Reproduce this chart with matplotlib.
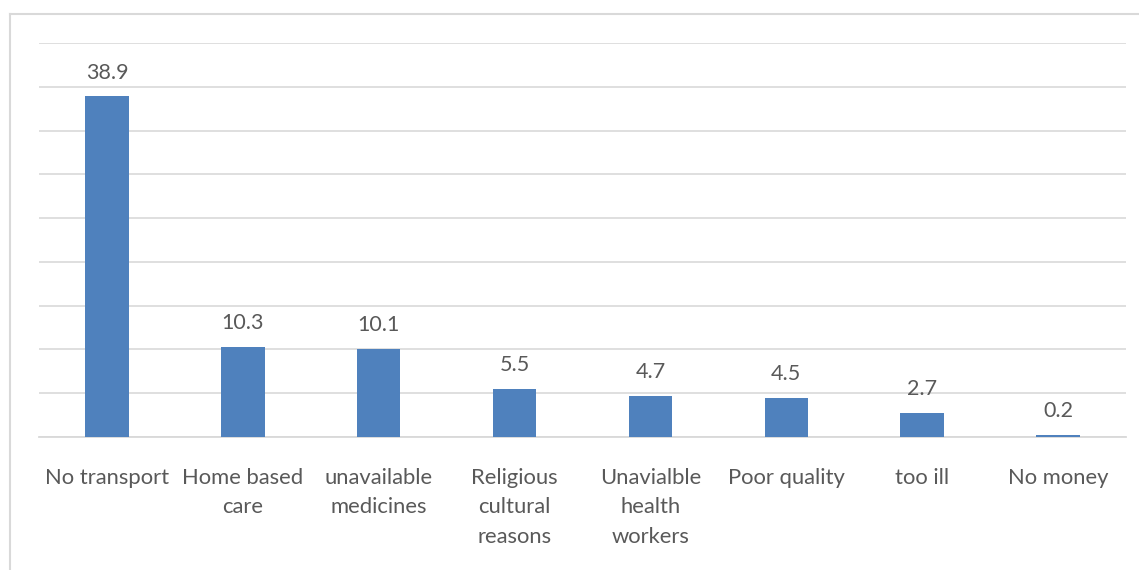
import numpy as np
import matplotlib.pyplot as plt
from matplotlib.lines import Line2D

categories = ["No transport", "Home based\ncare", "unavailable\nmedicines",
              "Religious\ncultural\nreasons", "Unavialble\nhealth\nworkers",
              "Poor quality", "too ill", "No money"]
values = [38.9, 10.3, 10.1, 5.5, 4.7, 4.5, 2.7, 0.2]
value_labels = ["38.9", "10.3", "10.1", "5.5", "4.7", "4.5", "2.7", "0.2"]

plt.rcParams['font.family'] = ['Lato', 'DejaVu Sans']
text_col = "#595959"
grid_col = "#D9D9D9"
bar_col = "#4F81BD"

fig = plt.figure(figsize=(11.39, 5.7), dpi=100)
ax = fig.add_axes([39/1139, 133/570, 1087/1139, 394/570])

x = np.arange(len(categories))
ax.bar(x, values, width=0.32, color=bar_col, zorder=3)

for xi, v, lab in zip(x, values, value_labels):
    ax.annotate(lab, (xi, v), xytext=(0, 10), textcoords="offset points",
                ha="center", va="bottom", fontsize=15.5, color=text_col)

ax.set_xlim(-0.5, len(categories) - 0.5)
ax.set_ylim(0, 45)
ax.set_yticks(np.arange(0, 46, 5))
ax.set_yticklabels([])
ax.tick_params(axis="y", length=0)
ax.grid(axis="y", color=grid_col, linewidth=1.2, zorder=0)

ax.set_xticks(x)
ax.set_xticklabels(categories, fontsize=15.8, color=text_col, linespacing=1.62)
ax.tick_params(axis="x", length=0, pad=22)

for s in ["top", "right", "left"]:
    ax.spines[s].set_visible(False)
ax.spines["bottom"].set_color(grid_col)
ax.spines["bottom"].set_linewidth(1.3)

# chart frame (partially cropped in the original)
fig.add_artist(Line2D([10/1139, 10/1139], [0, 1 - 14/570], color=grid_col,
                      linewidth=1.5, transform=fig.transFigure))
fig.add_artist(Line2D([10/1139, 1], [1 - 14/570, 1 - 14/570], color=grid_col,
                      linewidth=1.5, transform=fig.transFigure))

fig.savefig("out.png", dpi=100)
